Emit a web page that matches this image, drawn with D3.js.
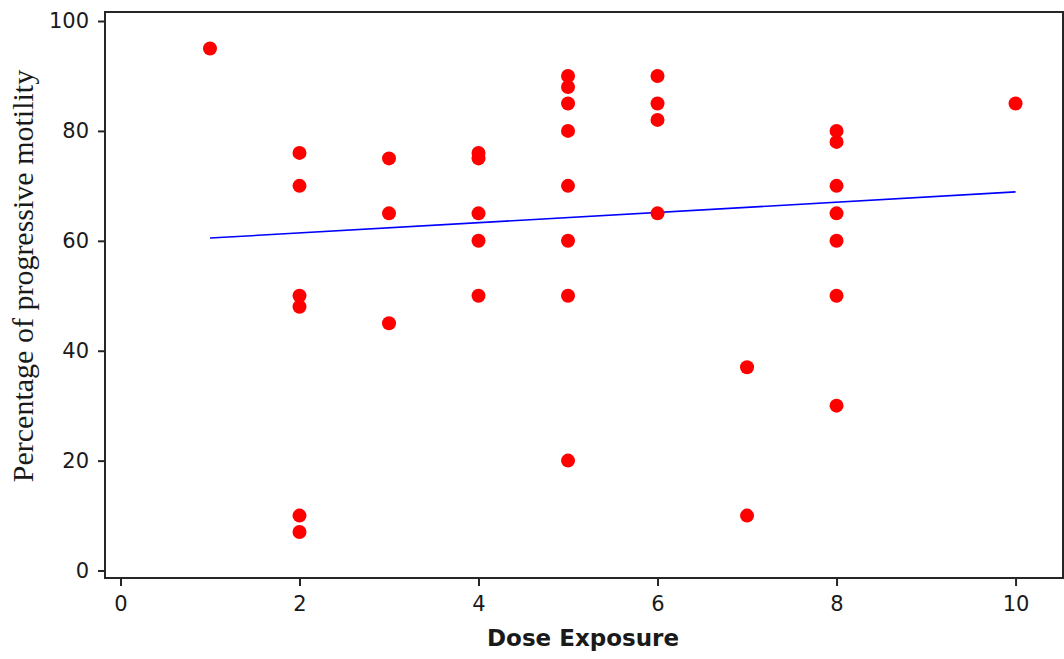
<!DOCTYPE html>
<html>
<head>
<meta charset="utf-8">
<script src="https://cdn.jsdelivr.net/npm/d3@7"></script>
<style>
  html, body { margin: 0; padding: 0; background: #fff; }
  svg { display: block; }
</style>
</head>
<body>
<svg id="chart" width="1064" height="659"></svg>
<script>
// Observations: dose exposure vs. percentage of progressive motility
const doseX = [1, 2, 2, 2, 2, 2, 2, 3, 3, 3, 4, 4, 4, 4, 4,
               5, 5, 5, 5, 5, 5, 5, 5, 6, 6, 6, 6, 7, 7,
               8, 8, 8, 8, 8, 8, 8, 10];
const motilityY = [95, 76, 70, 50, 48, 10, 7, 75, 65, 45, 76, 75, 65, 60, 50,
                   90, 88, 85, 80, 70, 60, 50, 20, 90, 85, 82, 65, 37, 10,
                   80, 78, 70, 65, 60, 50, 30, 85];

// Fitted trend line endpoints
const fitX = [1, 10];
const fitY = [60.5, 68.9];

// Axis ticks and labels
const xTicks = [0, 2, 4, 6, 8, 10];
const yTicks = [0, 20, 40, 60, 80, 100];
const xTitle = "Dose Exposure";
const yTitle = "Percentage of progressive motility";

// Axis extents (data units) covered by the plot frame
const xExtent = [-0.173, 10.53];
const yExtent = [-1.36, 101.64];

const svg = d3.select("#chart");
const frame = { left: 105, right: 1063, top: 12, bottom: 578 };

const x = d3.scaleLinear().domain(xExtent).range([frame.left, frame.right]);
const y = d3.scaleLinear().domain(yExtent).range([frame.bottom, frame.top]);

const axisColor = "#262626";
const tickFont = "'DejaVu Sans', Verdana, sans-serif";

// Regression line
svg.append("path")
  .datum(d3.zip(fitX, fitY))
  .attr("fill", "none")
  .attr("stroke", "#0000ff")
  .attr("stroke-width", 1.6)
  .attr("d", d3.line().x(d => x(d[0])).y(d => y(d[1])));

// Points
svg.append("g")
  .selectAll("circle")
  .data(d3.zip(doseX, motilityY))
  .join("circle")
  .attr("cx", d => x(d[0]))
  .attr("cy", d => y(d[1]))
  .attr("r", 7)
  .attr("fill", "#ff0000");

// Plot frame
svg.append("rect")
  .attr("x", frame.left)
  .attr("y", frame.top)
  .attr("width", frame.right - frame.left)
  .attr("height", frame.bottom - frame.top)
  .attr("fill", "none")
  .attr("stroke", axisColor)
  .attr("stroke-width", 2);

// Bottom axis
const xAxis = svg.append("g")
  .attr("transform", `translate(0,${frame.bottom})`)
  .call(d3.axisBottom(x).tickValues(xTicks).tickSize(8).tickPadding(10).tickFormat(d3.format("d")));
xAxis.select(".domain").remove();
xAxis.selectAll(".tick line").attr("stroke", axisColor).attr("stroke-width", 2);
xAxis.selectAll(".tick text")
  .attr("fill", "#1a1a1a")
  .style("font-family", tickFont)
  .style("font-size", "21px");

// Left axis
const yAxis = svg.append("g")
  .attr("transform", `translate(${frame.left},0)`)
  .call(d3.axisLeft(y).tickValues(yTicks).tickSize(7).tickPadding(9).tickFormat(d3.format("d")));
yAxis.select(".domain").remove();
yAxis.selectAll(".tick line").attr("stroke", axisColor).attr("stroke-width", 2);
yAxis.selectAll(".tick text")
  .attr("fill", "#1a1a1a")
  .style("font-family", tickFont)
  .style("font-size", "21px");

// Axis titles
svg.append("text")
  .attr("x", 583)
  .attr("y", 646)
  .attr("text-anchor", "middle")
  .attr("fill", "#1a1a1a")
  .style("font-family", "'DejaVu Sans', Verdana, sans-serif")
  .style("font-weight", "bold")
  .style("font-size", "23px")
  .text(xTitle);

svg.append("text")
  .attr("transform", "translate(33,276) rotate(-90)")
  .attr("text-anchor", "middle")
  .attr("fill", "#1a1a1a")
  .style("font-family", "'Liberation Serif', 'Times New Roman', serif")
  .style("font-size", "30px")
  .text(yTitle);
</script>
</body>
</html>
